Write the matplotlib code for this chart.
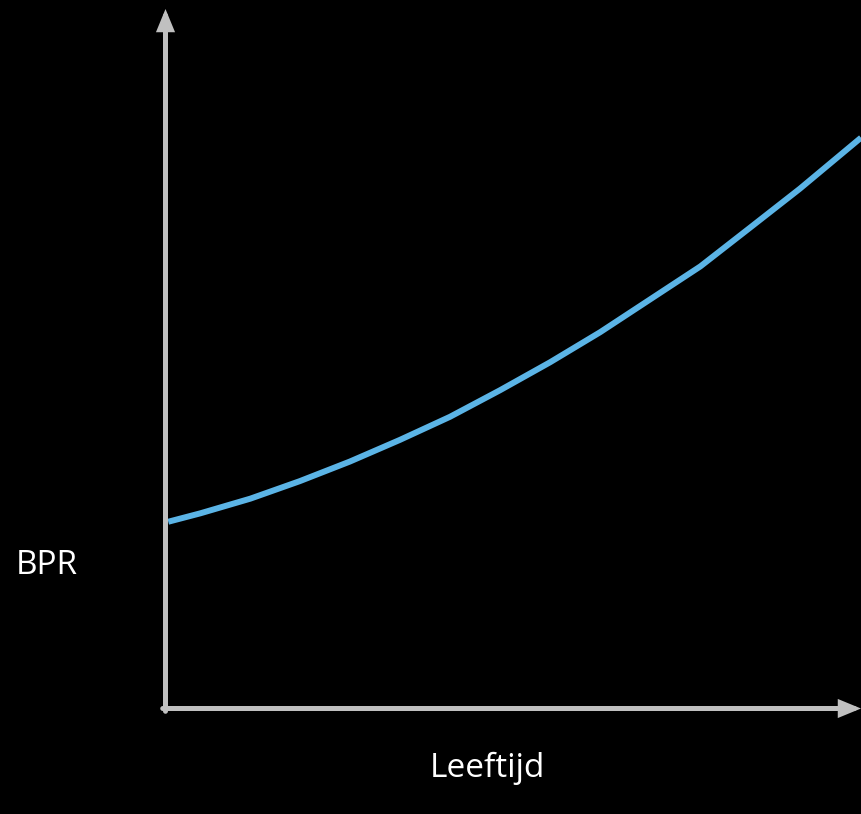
import matplotlib
matplotlib.use("Agg")
import matplotlib.pyplot as plt

# Data (arbitrary units: age vs BPR)
leeftijd = [0.4, 5.0, 12.2, 19.3, 26.5, 33.7, 40.9, 48.1, 55.3, 62.5, 69.7, 76.9, 84.0, 91.2, 100.0]
bpr = [26.7, 27.9, 30.0, 32.5, 35.3, 38.4, 41.7, 45.5, 49.5, 53.8, 58.5, 63.2, 68.7, 74.3, 81.6]
x_label = "Leeftijd"
y_label = "BPR"

W, H = 861, 814
fig = plt.figure(figsize=(W / 100, H / 100), dpi=100, facecolor="black")
ax = fig.add_axes([165.5 / W, (H - 708.5) / H, (861 - 165.5) / W, (708.5 - 9) / H])
ax.set_facecolor("black")
ax.set_xlim(0, 100)
ax.set_ylim(0, 100)
for s in ax.spines.values():
    s.set_visible(False)
ax.set_xticks([])
ax.set_yticks([])

ax.plot(leeftijd, bpr, color="#5BB4E6", lw=4.3, solid_capstyle="butt",
        solid_joinstyle="round", clip_on=False, zorder=3)

axis_col = "#C0C0C0"
arrow = dict(arrowstyle="-|>,head_length=0.34,head_width=0.14", mutation_scale=30,
             lw=3.6, color=axis_col, shrinkA=0, shrinkB=0, joinstyle="miter")
ax.annotate("", xy=(0, 1), xytext=(0, -0.004), xycoords="axes fraction",
            textcoords="axes fraction", arrowprops=arrow, annotation_clip=False)
ax.annotate("", xy=(1, 0), xytext=(-0.004, 0), xycoords="axes fraction",
            textcoords="axes fraction", arrowprops=arrow, annotation_clip=False)

fig.text(47 / W, 1 - 565 / H, y_label, color="white", fontsize=24, family="Open Sans",
         ha="center", va="center")
fig.text(487 / W, 1 - 768 / H, x_label, color="white", fontsize=24, family="Open Sans",
         ha="center", va="center")

fig.savefig("out.png", dpi=100, facecolor="black")
